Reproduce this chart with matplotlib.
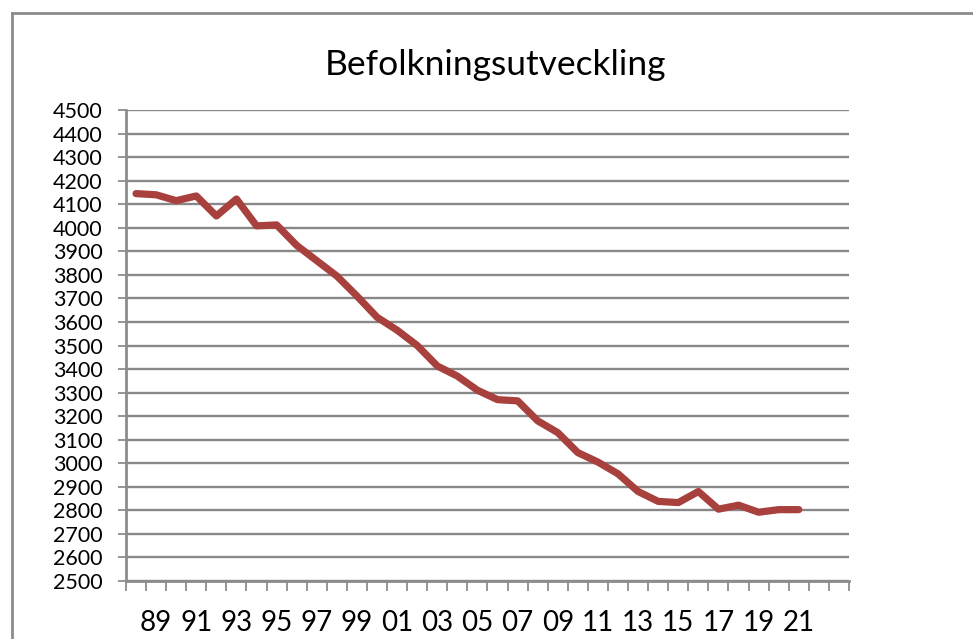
import matplotlib
matplotlib.use("Agg")
import matplotlib.pyplot as plt
from matplotlib.lines import Line2D
import numpy as np

years = ["88", "89", "90", "91", "92", "93", "94", "95", "96", "97", "98", "99",
         "00", "01", "02", "03", "04", "05", "06", "07", "08", "09", "10", "11",
         "12", "13", "14", "15", "16", "17", "18", "19", "20", "21"]
population = [4145, 4140, 4115, 4135, 4050, 4122, 4008, 4012, 3925, 3860, 3795, 3710,
              3620, 3565, 3500, 3413, 3370, 3310, 3270, 3265, 3180, 3130, 3045, 3005,
              2955, 2880, 2838, 2833, 2880, 2805, 2822, 2792, 2803, 2803]
n_categories = 36
y_ticks = list(range(2500, 4501, 100))
title = "Befolkningsutveckling"

plt.rcParams['font.family'] = ['Lato', 'DejaVu Sans']

W, H = 973, 639
fig = plt.figure(figsize=(W / 100, H / 100), dpi=100)
ax = fig.add_axes([126 / W, 1 - 581 / H, (849 - 126) / W, (581 - 110) / H])

x = np.arange(len(population))
ax.plot(x, population, color="#A8403D", linewidth=5.2, solid_joinstyle="round",
        solid_capstyle="round", zorder=3)

ax.set_xlim(-0.5, n_categories - 0.5)
ax.set_ylim(2500, 4500)
ax.set_yticks(y_ticks)
ax.set_yticklabels([str(v) for v in y_ticks])
ax.yaxis.grid(True, color="#888888", linewidth=1.7)
ax.set_axisbelow(True)

ax.set_xticks(np.arange(-0.5, n_categories, 1.0))
ax.set_xticklabels([])
ax.set_xticks(x[1::2], minor=True)
ax.set_xticklabels(years[1::2], minor=True)
ax.tick_params(axis="x", which="major", length=7, width=1.3, color="#8C8C8C", direction="out")
ax.tick_params(axis="x", which="minor", length=0, pad=21, labelsize=20)
ax.tick_params(axis="y", length=6, width=1.3, color="#8C8C8C", labelsize=15.5, pad=11)

for s in ["top", "right"]:
    ax.spines[s].set_visible(False)
for s in ["left", "bottom"]:
    ax.spines[s].set_color("#8C8C8C")
    ax.spines[s].set_linewidth(2)

fig.text(495 / W, 1 - 65 / H, title, ha="center", va="center", fontsize=25.5)

# chart outer border
fig.add_artist(Line2D([12 / W, 12 / W], [0, 1 - 13 / H], transform=fig.transFigure,
                      color="#8C8C8C", linewidth=2))
fig.add_artist(Line2D([12 / W, 1], [1 - 13 / H, 1 - 13 / H], transform=fig.transFigure,
                      color="#8C8C8C", linewidth=2))

fig.savefig("out.png", dpi=100)
